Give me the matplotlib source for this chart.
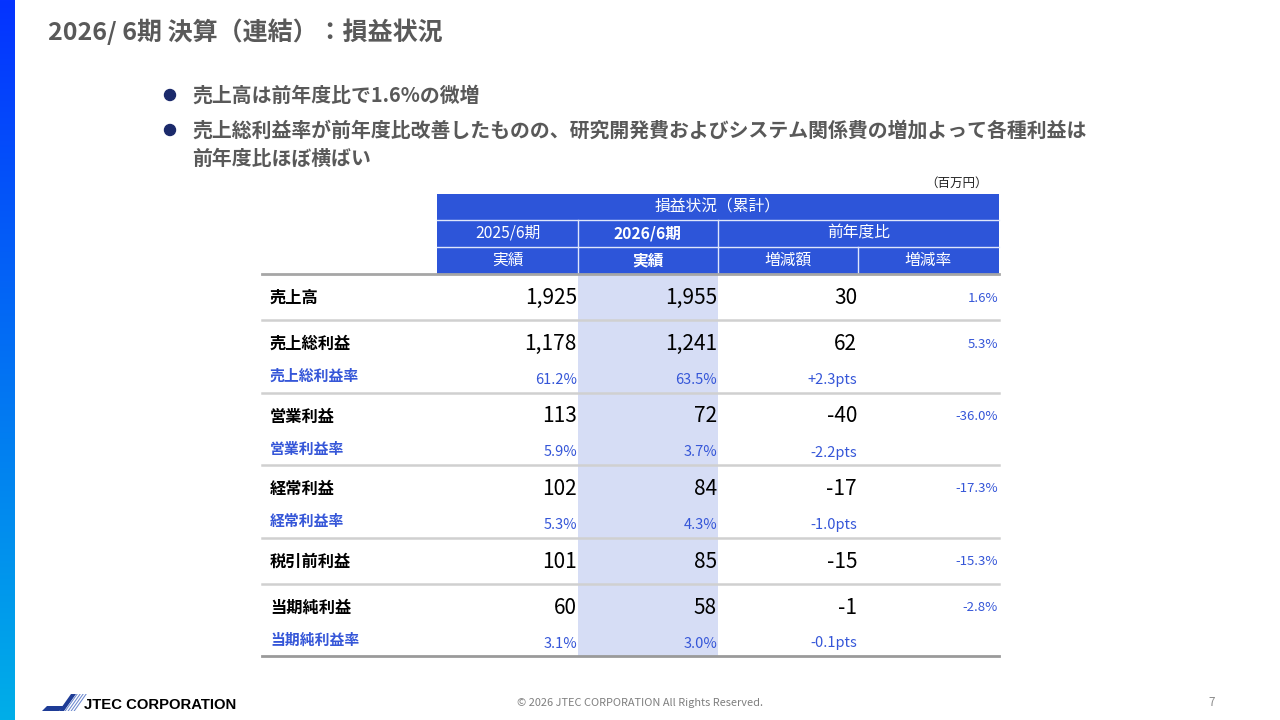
import matplotlib
matplotlib.use("Agg")
import matplotlib.pyplot as plt
import numpy as np
from matplotlib.patches import Rectangle, Polygon

plt.rcParams['font.family'] = ['Noto Sans CJK JP', 'DejaVu Sans']

# ---------------- data ----------------
title = "2026/ 6期 決算（連結）：損益状況"
bullet_lines = ["売上高は前年度比で1.6%の微増",
                "売上総利益率が前年度比改善したものの、研究開発費およびシステム関係費の増加よって各種利益は",
                "前年度比ほぼ横ばい"]
unit_label = "（百万円）"
header_top = "損益状況（累計）"
header_periods = ["2025/6期", "2026/6期", "前年度比"]
header_cols = ["実績", "実績", "増減額", "増減率"]

items = ["売上高", "売上総利益", "営業利益", "経常利益", "税引前利益", "当期純利益"]
prev_vals = [1925, 1178, 113, 102, 101, 60]
curr_vals = [1955, 1241, 72, 84, 85, 58]
diff_vals = [30, 62, -40, -17, -15, -1]
diff_rates = [1.6, 5.3, -36.0, -17.3, -15.3, -2.8]

margin_labels = [None, "売上総利益率", "営業利益率", "経常利益率", None, "当期純利益率"]
margin_prev = [None, 61.2, 5.9, 5.3, None, 3.1]
margin_curr = [None, 63.5, 3.7, 4.3, None, 3.0]
margin_diff = [None, 2.3, -2.2, -1.0, None, -0.1]

footer = "© 2026 JTEC CORPORATION All Rights Reserved."
page_no = "7"
company = "JTEC CORPORATION"

# ---------------- figure ----------------
fig = plt.figure(figsize=(12.8, 7.2), dpi=100)
ax = fig.add_axes([0, 0, 1, 1])

# left gradient bar
grad = np.linspace(0, 1, 256).reshape(-1, 1)
c_top = np.array([0x05, 0x33, 0xff]) / 255
c_bot = np.array([0x00, 0xae, 0xe8]) / 255
img = c_top[None, None, :] * (1 - grad[:, :, None]) + c_bot[None, None, :] * grad[:, :, None]
ax.imshow(img, extent=(0, 15, 720, 0), aspect='auto', zorder=1)
ax.set_xlim(0, 1280)
ax.set_ylim(720, 0)
ax.axis('off')

# title
gray_txt = '#595959'
ax.text(48, 32, title, fontsize=18, fontweight='bold', color=gray_txt, va='center', ha='left')

# bullets
bfs = 14.3
for by in [95, 130]:
    ax.add_patch(plt.Circle((170, by), 5.5, color='#1b2a6b', zorder=3))
for by, txt in zip([95, 130, 158], bullet_lines):
    ax.text(192, by, txt, fontsize=bfs, fontweight='bold', color=gray_txt, va='center', ha='left')

# unit
ax.text(988, 183, unit_label, fontsize=9, color='#222222', va='center', ha='right')

# ---------------- table ----------------
blue = '#2d55d9'
cols = [437, 578, 718, 858, 999]
tbl_left = 262
r1, r2, r3, r4 = 194, 220, 247, 274

ax.add_patch(Rectangle((cols[0], r1), cols[-1] - cols[0], r4 - r1, color=blue, zorder=2, lw=0))
wl = dict(color='#dfe6fb', lw=1.0, zorder=3)
ax.plot([cols[0], cols[-1]], [r2, r2], **wl)
ax.plot([cols[0], cols[-1]], [r3, r3], **wl)
for x in [cols[1], cols[2]]:
    ax.plot([x, x], [r2, r4], **wl)
ax.plot([cols[3], cols[3]], [r3, r4], **wl)

hfs = 11.3
ax.text((cols[0] + cols[-1]) / 2, (r1 + r2) / 2, header_top, color='white', fontsize=hfs, ha='center', va='center', zorder=4)
ax.text((cols[0] + cols[1]) / 2, (r2 + r3) / 2, header_periods[0], color='white', fontsize=hfs, ha='center', va='center', zorder=4)
ax.text((cols[1] + cols[2]) / 2, (r2 + r3) / 2, header_periods[1], color='white', fontsize=hfs, fontweight='bold', ha='center', va='center', zorder=4)
ax.text((cols[2] + cols[4]) / 2, (r2 + r3) / 2, header_periods[2], color='white', fontsize=hfs, ha='center', va='center', zorder=4)
for i, h in enumerate(header_cols):
    ax.text((cols[i] + cols[i + 1]) / 2, (r3 + r4) / 2, h, color='white', fontsize=hfs,
            fontweight='bold' if i == 1 else 'normal', ha='center', va='center', zorder=4)

# body
body_top = 274
single_h = 46
double_h = 72.5
heights = [double_h if m is not None else single_h for m in margin_labels]
tops = [body_top]
for h in heights[:-1]:
    tops.append(tops[-1] + h)
body_bottom = tops[-1] + heights[-1]

ax.add_patch(Rectangle((cols[1], body_top), cols[2] - cols[1], body_bottom - body_top,
                       color='#d6ddf5', lw=0, zorder=1))
ax.plot([tbl_left, cols[-1]], [body_top, body_top], color='#a6a6a6', lw=2, zorder=3)

blue_txt = '#3556d8'
nfs = 15
for i, item in enumerate(items):
    t = tops[i]
    my = t + 24
    ax.text(270, my, item, fontsize=11.7, fontweight='bold', color='black', va='center', ha='left', zorder=4)
    ax.text(cols[1] - 1, my, f"{prev_vals[i]:,}", fontsize=nfs, color='black', va='center', ha='right', zorder=4)
    ax.text(cols[2] - 1, my, f"{curr_vals[i]:,}", fontsize=nfs, color='black', va='center', ha='right', zorder=4)
    ax.text(cols[3] - 1, my, f"{diff_vals[i]:,}", fontsize=nfs, color='black', va='center', ha='right', zorder=4)
    ax.text(cols[4] - 1, my, f"{diff_rates[i]:.1f}%", fontsize=9.5, color=blue_txt, va='center', ha='right', zorder=4)
    if margin_labels[i] is not None:
        ly = t + 56
        vy = t + 60
        ax.text(270, ly, margin_labels[i], fontsize=10.7, fontweight='bold', color=blue_txt, va='center', ha='left', zorder=4)
        ax.text(cols[1] - 1, vy, f"{margin_prev[i]:.1f}%", fontsize=10.5, color=blue_txt, va='center', ha='right', zorder=4)
        ax.text(cols[2] - 1, vy, f"{margin_curr[i]:.1f}%", fontsize=10.5, color=blue_txt, va='center', ha='right', zorder=4)
        ax.text(cols[3] - 1, vy, f"{margin_diff[i]:+.1f}pts", fontsize=10.5, color=blue_txt, va='center', ha='right', zorder=4)
    yb = t + heights[i]
    if i < len(items) - 1:
        ax.plot([tbl_left, cols[-1]], [yb, yb], color='#d0d0d0', lw=1.8, zorder=3)
    else:
        ax.plot([tbl_left, cols[-1]], [yb, yb], color='#9a9a9a', lw=2, zorder=3)

# footer
ax.text(640, 703, footer, fontsize=7.9, color='#7f7f7f', ha='center', va='center')
ax.text(1212, 703, page_no, fontsize=8.5, color='#8c8c8c', ha='center', va='center')

# logo
ax.add_patch(Polygon([(42, 711), (47, 706), (64, 706), (59, 711)], closed=True, color='#1e3c96', lw=0))
ax.add_patch(Polygon([(59, 711), (71, 694), (76, 694), (64, 711)], closed=True, color='#1e3c96', lw=0))
for k in range(4):
    x0 = 64.5 + k * 3
    ax.add_patch(Polygon([(x0, 711), (x0 + 12, 694), (x0 + 13.3, 694), (x0 + 1.3, 711)], closed=True, color='#6f8bd0', lw=0))
ax.text(84, 705, company, fontsize=10.7, fontweight='bold', color='black', ha='left', va='center',
        family=['Liberation Sans'])

fig.savefig("out.png", dpi=100)
